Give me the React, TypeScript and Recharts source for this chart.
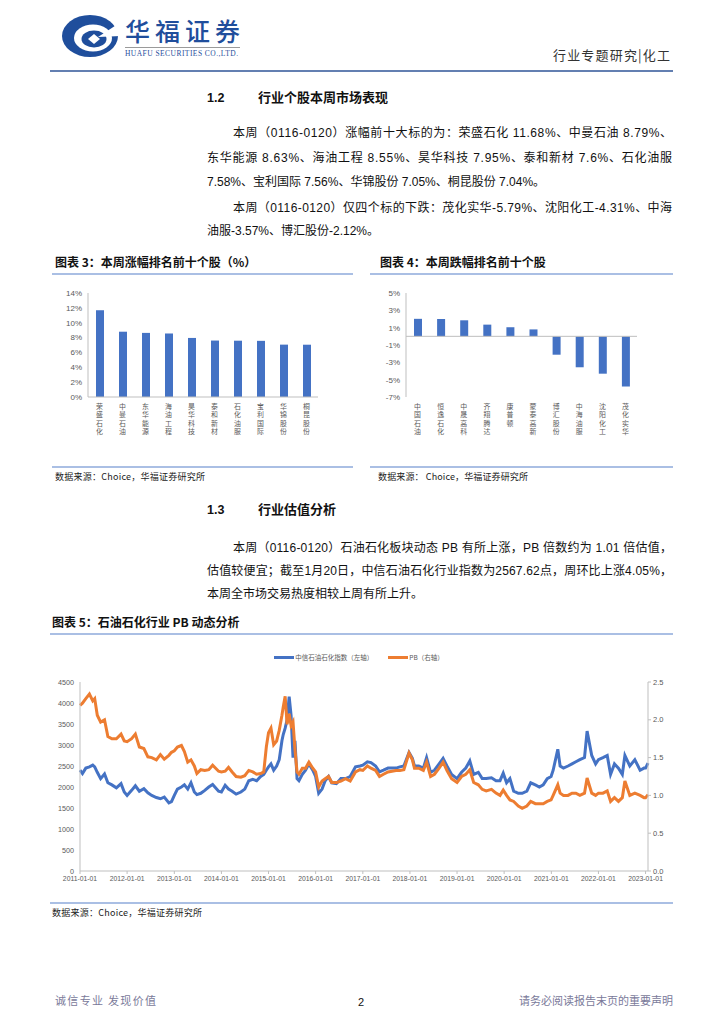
import React from 'react';
import { BarChart, Bar, XAxis, YAxis, LineChart, Line, Legend, ReferenceLine } from 'recharts';

// ---------- Chart 3: top gainers ----------
const gainNames = ['荣盛石化', '中曼石油', '东华能源', '海油工程', '昊华科技', '泰和新材', '石化油服', '宝利国际', '华锦股份', '桐昆股份'];
const gainValues = [11.68, 8.79, 8.63, 8.55, 7.95, 7.6, 7.58, 7.56, 7.05, 7.04];
const gainTicks = [0, 2, 4, 6, 8, 10, 12, 14];

// ---------- Chart 4: top decliners ----------
const lossNames = ['中国石油', '恒逸石化', '中晟高科', '齐翔腾达', '康普顿', '蒙泰高新', '博汇股份', '中海油服', '沈阳化工', '茂化实华'];
const lossValues = [2.02, 2.0, 1.85, 1.35, 1.05, 0.8, -2.12, -3.57, -4.31, -5.79];
const lossTicks = [5, 3, 1, -1, -3, -5, -7];

// ---------- Chart 5: index & PB ----------
const pbDates = [
  '2011-01-01', '2011-01-20', '2011-02-15', '2011-03-15', '2011-04-10', '2011-04-25', '2011-05-15', '2011-06-10', '2011-07-10', '2011-08-05', '2011-09-05', '2011-10-10', '2011-11-15', '2011-12-10',
  '2012-01-01', '2012-02-05', '2012-03-05', '2012-04-05', '2012-05-10', '2012-06-10', '2012-07-10', '2012-08-15', '2012-09-15', '2012-10-15', '2012-11-20', '2012-12-10',
  '2013-01-01', '2013-01-25', '2013-02-25', '2013-03-20', '2013-04-15', '2013-05-10', '2013-06-05', '2013-06-25', '2013-07-25', '2013-08-25', '2013-09-25', '2013-10-25', '2013-12-10',
  '2014-01-01', '2014-01-30', '2014-02-25', '2014-03-25', '2014-04-25', '2014-06-01', '2014-07-01', '2014-08-01', '2014-09-01', '2014-10-01', '2014-11-01', '2014-11-25', '2014-12-15',
  '2015-01-01', '2015-01-20', '2015-02-10', '2015-03-05', '2015-03-25', '2015-04-15', '2015-04-25', '2015-05-10', '2015-05-25', '2015-06-10', '2015-06-25', '2015-07-10', '2015-07-25', '2015-08-10', '2015-08-25', '2015-09-20', '2015-10-15', '2015-11-10', '2015-12-10',
  '2016-01-01', '2016-01-25', '2016-02-20', '2016-03-15', '2016-04-10', '2016-05-05', '2016-06-10', '2016-07-15', '2016-08-20', '2016-09-25', '2016-11-05', '2016-12-10',
  '2017-01-01', '2017-02-05', '2017-03-05', '2017-04-10', '2017-05-10', '2017-06-10', '2017-07-15', '2017-08-15', '2017-09-15', '2017-10-15', '2017-11-15', '2017-12-25',
  '2018-01-20', '2018-02-05', '2018-03-10', '2018-04-15', '2018-05-10', '2018-06-10', '2018-07-10', '2018-08-15', '2018-09-15', '2018-10-15', '2018-11-20',
  '2019-01-01', '2019-02-05', '2019-03-10', '2019-04-10', '2019-05-10', '2019-06-15', '2019-07-15', '2019-08-15', '2019-09-25', '2019-10-30', '2019-11-30', '2019-12-25',
  '2020-01-20', '2020-02-15', '2020-03-15', '2020-04-20', '2020-05-20', '2020-06-25', '2020-07-25', '2020-08-30', '2020-09-30', '2020-10-30', '2020-11-30', '2020-12-30',
  '2021-01-15', '2021-02-20', '2021-03-10', '2021-04-05', '2021-05-10', '2021-06-10', '2021-07-10', '2021-08-10', '2021-09-15', '2021-10-05', '2021-11-10', '2021-12-10',
  '2022-01-01', '2022-02-05', '2022-03-10', '2022-04-05', '2022-05-05', '2022-06-05', '2022-07-05', '2022-07-25', '2022-09-01', '2022-10-10', '2022-11-20', '2022-12-20', '2023-01-01', '2023-01-20',
];
const indexValues = [
  2400, 2320, 2450, 2480, 2520, 2480, 2350, 2200, 2310, 2100, 2050, 1980, 2080, 1880,
  1800, 1920, 2030, 1900, 1960, 1860, 1800, 1750, 1720, 1760, 1620, 1650,
  1800, 1950, 2000, 2050, 1950, 2100, 1880, 1820, 1850, 1920, 2000, 2060, 1900,
  1880, 2040, 1950, 1900, 1830, 1880, 1950, 2150, 2180, 2150, 2250, 2300, 2400,
  2480, 2550, 2400, 2500, 2650, 3100, 3250, 3400, 3600, 4150, 3700, 2700, 3100, 2200, 2150, 2300, 2400, 2550, 2400,
  2250, 1850, 1950, 2150, 2250, 2100, 2080, 2200, 2200, 2250, 2480, 2500,
  2520, 2600, 2580, 2500, 2360, 2400, 2450, 2450, 2450, 2480, 2500, 2820,
  2680, 2500, 2500, 2450, 2700, 2350, 2400, 2550, 2680, 2500, 2300,
  2200, 2350, 2450, 2620, 2300, 2350, 2200, 2200, 2220, 2150, 2150, 2330,
  2100, 2200, 1900, 1850, 1850, 1900, 2100, 2050, 2000, 2050, 2200, 2250,
  2400, 2900, 2500, 2450, 2500, 2550, 2600, 2650, 2700, 3330, 2750, 2550,
  2650, 2700, 2750, 2300, 2550, 2450, 2300, 2750, 2500, 2650, 2400, 2450, 2450, 2570,
];
const pbValues = [
  2.19, 2.22, 2.28, 2.34, 2.25, 2.28, 2.06, 1.97, 2.0, 1.78, 1.75, 1.75, 1.81, 1.72,
  1.71, 1.75, 1.81, 1.64, 1.62, 1.51, 1.5, 1.47, 1.54, 1.48, 1.53, 1.57,
  1.59, 1.64, 1.66, 1.58, 1.44, 1.47, 1.39, 1.29, 1.34, 1.33, 1.34, 1.4, 1.32,
  1.31, 1.32, 1.37, 1.31, 1.25, 1.24, 1.26, 1.33, 1.31, 1.28, 1.29, 1.31, 1.64,
  1.83, 1.89, 1.67, 1.72, 1.86, 2.06, 2.17, 2.31, 1.94, 2.08, 1.92, 1.97, 1.61, 1.31, 1.28, 1.36, 1.36, 1.44, 1.36,
  1.31, 1.11, 1.19, 1.22, 1.25, 1.17, 1.17, 1.19, 1.22, 1.19, 1.31, 1.34,
  1.33, 1.39, 1.36, 1.33, 1.25, 1.28, 1.31, 1.32, 1.33, 1.33, 1.34, 1.56,
  1.47, 1.36, 1.36, 1.33, 1.44, 1.25, 1.28, 1.36, 1.44, 1.33, 1.22,
  1.17, 1.25, 1.28, 1.34, 1.17, 1.14, 1.08, 1.06, 1.08, 1.03, 1.0, 1.07,
  1.0, 0.94, 0.92, 0.86, 0.83, 0.86, 0.92, 0.89, 0.89, 0.89, 0.92, 0.94,
  1.0, 1.14, 1.03, 1.0, 1.0, 1.03, 1.03, 1.0, 1.03, 1.23, 1.03, 1.0,
  1.03, 1.03, 1.06, 0.92, 0.97, 0.92, 0.97, 1.19, 1.0, 1.03, 1.0, 0.97, 0.97, 1.01,
];
const yearTickLabels = ['2011-01-01', '2012-01-01', '2013-01-01', '2014-01-01', '2015-01-01', '2016-01-01', '2017-01-01', '2018-01-01', '2019-01-01', '2020-01-01', '2021-01-01', '2022-01-01', '2023-01-01'];
const leftTicks = [0, 500, 1000, 1500, 2000, 2500, 3000, 3500, 4000, 4500];
const rightTicks = [0, 0.5, 1, 1.5, 2, 2.5];
const seriesNames = ['中信石油石化指数（左轴）', 'PB（右轴）'];

const BLUE = '#4472C4';
const ORANGE = '#ED7D31';
const AXIS = '#BFBFBF';
const TXT = '#595959';
const FONT = '"Liberation Sans", "Noto Sans CJK SC", sans-serif';
const CJK = '"Noto Sans CJK SC", "Liberation Sans", sans-serif';

const gainData = gainNames.map((name, i) => ({ name, value: gainValues[i] }));
const lossData = lossNames.map((name, i) => ({ name, value: lossValues[i] }));
const pbData = pbDates.map((d, i) => ({ t: Date.parse(d), index: indexValues[i], pb: pbValues[i] }));
const yearTicks = yearTickLabels.map((d) => Date.parse(d));
const xDomain = [Date.parse('2011-01-01'), Date.parse('2023-01-20')];

const VerticalTick = (props: any) => {
  const { x, y, payload } = props;
  const chars = Array.from(String(payload.value));
  return (
    <g>
      {chars.map((c, i) => (
        <text key={i} x={x} y={y + 4 + i * 8.3} textAnchor="middle" fontSize={6.9} fill={TXT} fontFamily={CJK}>
          {c}
        </text>
      ))}
    </g>
  );
};

const LegendContent = () => (
  <div style={{ height: 32, display: 'flex', justifyContent: 'center', alignItems: 'flex-start', fontFamily: CJK, fontSize: 6.5, color: TXT }}>
    <div style={{ display: 'flex', alignItems: 'center', height: 14 }}>
      <span style={{ display: 'inline-block', width: 20, height: 3, background: BLUE, marginRight: 1 }} />
      <span>{seriesNames[0]}</span>
      <span style={{ display: 'inline-block', width: 15 }} />
      <span style={{ display: 'inline-block', width: 20, height: 3, background: ORANGE, marginRight: 1 }} />
      <span>{seriesNames[1]}</span>
    </div>
  </div>
);

const T = (p: any) => {
  const { x, y, size = 12, weight = 400, fill = '#111', len, anchor = 'start', family = FONT, children } = p;
  return (
    <text
      x={x}
      y={y}
      fontSize={size}
      fontWeight={weight}
      fill={fill}
      fontFamily={family}
      textAnchor={anchor}
      {...(len ? { textLength: len, lengthAdjust: 'spacing' } : {})}
    >
      {children}
    </text>
  );
};

const TITLE_LINE = '#8EAADB';

const Page = () => (
  <svg width={724} height={1024} style={{ position: 'absolute', left: 0, top: 0 }}>
    {/* header logo */}
    <g>
      <ellipse cx={90} cy={36} rx={28} ry={21} fill="#1F4E9C" />
      <ellipse cx={93} cy={38} rx={19} ry={13.5} fill="#fff" />
      <ellipse cx={94} cy={39} rx={12.5} ry={8.5} fill="#1F4E9C" />
      <path d="M 94 34 L 100 39 L 94 44 L 88 39 Z" fill="#fff" />
      <path d="M 98 37 L 121 22 L 121 36 Z" fill="#fff" />
    </g>
    <T x={125} y={41} size={25} weight={500} fill="#1F4E9C" family={CJK} len={115}>华福证券</T>
    <line x1={125} y1={47.5} x2={240} y2={47.5} stroke="#9A9A9A" strokeWidth={1} />
    <T x={125} y={56} size={7.5} fill="#1F4E9C" family='"Liberation Serif", serif' len={113}>HUAFU SECURITIES CO.,LTD.</T>
    <T x={553} y={60} size={13} fill="#333" family={CJK} len={117}>行业专题研究|化工</T>
    <line x1={50} y1={71} x2={673} y2={71} stroke="#2F5597" strokeWidth={1.5} />

    {/* section 1.2 */}
    <T x={207} y={102} size={12.5} weight={700}>1.2</T>
    <T x={258} y={102} size={13} weight={700} family={CJK}>行业个股本周市场表现</T>
    <T x={233} y={137} size={12} len={439}>本周（0116-0120）涨幅前十大标的为：荣盛石化 11.68%、中曼石油 8.79%、</T>
    <T x={207} y={162} size={12} len={465}>东华能源 8.63%、海油工程 8.55%、昊华科技 7.95%、泰和新材 7.6%、石化油服</T>
    <T x={207} y={186} size={12}>7.58%、宝利国际 7.56%、华锦股份 7.05%、桐昆股份 7.04%。</T>
    <T x={233} y={212} size={12} len={439}>本周（0116-0120）仅四个标的下跌：茂化实华-5.79%、沈阳化工-4.31%、中海</T>
    <T x={207} y={235} size={12}>油服-3.57%、博汇股份-2.12%。</T>

    {/* chart 3 / 4 frames */}
    <T x={55} y={267} size={12} weight={700} family={CJK}>图表 3：本周涨幅排名前十个股（%）</T>
    <line x1={52} y1={274} x2={353} y2={274} stroke={TITLE_LINE} strokeWidth={1.5} />
    <line x1={52} y1={467} x2={353} y2={467} stroke={TITLE_LINE} strokeWidth={1.5} />
    <T x={55} y={480} size={9} fill="#222" family={CJK} len={150}>数据来源：Choice，华福证券研究所</T>

    <T x={380} y={267} size={12} weight={700} family={CJK}>图表 4：本周跌幅排名前十个股</T>
    <line x1={370} y1={274} x2={673} y2={274} stroke={TITLE_LINE} strokeWidth={1.5} />
    <line x1={370} y1={467} x2={673} y2={467} stroke={TITLE_LINE} strokeWidth={1.5} />
    <T x={378} y={480} size={9} fill="#222" family={CJK} len={150}>数据来源：  Choice，华福证券研究所</T>

    {/* section 1.3 */}
    <T x={207} y={514} size={12.5} weight={700}>1.3</T>
    <T x={258} y={514} size={13} weight={700} family={CJK}>行业估值分析</T>
    <T x={233} y={552} size={12} len={439}>本周（0116-0120）石油石化板块动态 PB 有所上涨，PB 倍数约为 1.01 倍估值，</T>
    <T x={207} y={575} size={12} len={465}>估值较便宜；截至1月20日，中信石油石化行业指数为2567.62点，周环比上涨4.05%，</T>
    <T x={207} y={598} size={12}>本周全市场交易热度相较上周有所上升。</T>

    {/* chart 5 frame */}
    <T x={52} y={627} size={12} weight={700} family={CJK}>图表 5：石油石化行业 PB 动态分析</T>
    <line x1={50} y1={634} x2={673} y2={634} stroke={TITLE_LINE} strokeWidth={1.5} />
    <line x1={50} y1={903} x2={673} y2={903} stroke={TITLE_LINE} strokeWidth={1.5} />
    <T x={52} y={916} size={9} fill="#222" family={CJK} len={150}>数据来源：Choice，华福证券研究所</T>

    {/* footer */}
    <T x={55} y={1005} size={11} fill="#7A7A9A" family={CJK} len={101}>诚信专业  发现价值</T>
    <T x={361} y={1006} size={11} fill="#111" anchor="middle">2</T>
    <T x={673} y={1005} size={11} fill="#7A7A9A" family={CJK} anchor="end">请务必阅读报告末页的重要声明</T>
  </svg>
);

export default function App() {
  return (
    <div style={{ position: 'relative', width: 724, height: 1024, background: '#fff', overflow: 'hidden', fontFamily: FONT }}>
      <style>{'body{margin:0;}'}</style>
      <Page />

      <div style={{ position: 'absolute', left: 40, top: 283 }}>
        <BarChart width={290} height={168} data={gainData} margin={{ top: 10, right: 12, left: 0, bottom: 0 }}>
          <XAxis dataKey="name" interval={0} height={54} axisLine={{ stroke: AXIS }} tickLine={false} tick={(p: any) => <VerticalTick {...p} />} />
          <YAxis
            width={48}
            domain={[0, 14]}
            ticks={gainTicks}
            interval={0}
            tickFormatter={(v: number) => `${v}%`}
            axisLine={{ stroke: AXIS }}
            tickLine={false}
            tickSize={4}
            tick={{ fontSize: 8, fill: TXT, fontFamily: FONT }}
          />
          <Bar dataKey="value" fill={BLUE} barSize={8} isAnimationActive={false} />
        </BarChart>
      </div>

      <div style={{ position: 'absolute', left: 358, top: 283 }}>
        <BarChart width={291} height={168} data={lossData} margin={{ top: 10, right: 12, left: 0, bottom: 0 }}>
          <XAxis dataKey="name" interval={0} height={54} axisLine={false} tickLine={false} tick={(p: any) => <VerticalTick {...p} />} />
          <YAxis
            width={48}
            domain={[-7, 5]}
            ticks={lossTicks}
            interval={0}
            tickFormatter={(v: number) => `${v}%`}
            axisLine={{ stroke: AXIS }}
            tickLine={false}
            tickSize={4}
            tick={{ fontSize: 8, fill: TXT, fontFamily: FONT }}
          />
          <ReferenceLine y={0} stroke={AXIS} strokeWidth={1} />
          <Bar dataKey="value" fill={BLUE} barSize={8} isAnimationActive={false} />
        </BarChart>
      </div>

      <div style={{ position: 'absolute', left: 30, top: 645 }}>
        <LineChart width={658} height={246} data={pbData} margin={{ top: 5, right: 0, left: 0, bottom: 0 }}>
          <Legend verticalAlign="top" align="center" content={<LegendContent />} wrapperStyle={{ height: 32 }} />
          <XAxis
            dataKey="t"
            type="number"
            domain={xDomain}
            ticks={yearTicks}
            interval={0}
            height={20}
            tickFormatter={(v: number) => `${new Date(v).getUTCFullYear()}-01-01`}
            axisLine={{ stroke: AXIS }}
            tickLine={{ stroke: AXIS }}
            tickSize={3}
            tick={{ fontSize: 6.8, fill: TXT, fontFamily: FONT }}
          />
          <YAxis
            yAxisId="left"
            width={50}
            domain={[0, 4500]}
            ticks={leftTicks}
            interval={0}
            axisLine={{ stroke: AXIS }}
            tickLine={false}
            tickSize={4}
            tick={{ fontSize: 7.2, fill: TXT, fontFamily: FONT }}
          />
          <YAxis
            yAxisId="right"
            orientation="right"
            width={40}
            domain={[0, 2.5]}
            ticks={rightTicks}
            interval={0}
            tickFormatter={(v: number) => v.toFixed(1)}
            axisLine={{ stroke: AXIS }}
            tickLine={{ stroke: AXIS }}
            tickSize={3}
            tick={{ fontSize: 7.5, fill: TXT, fontFamily: FONT }}
          />
          <Line yAxisId="left" type="linear" dataKey="index" stroke={BLUE} strokeWidth={3} dot={false} isAnimationActive={false} />
          <Line yAxisId="right" type="linear" dataKey="pb" stroke={ORANGE} strokeWidth={3} dot={false} isAnimationActive={false} />
        </LineChart>
      </div>
    </div>
  );
}
